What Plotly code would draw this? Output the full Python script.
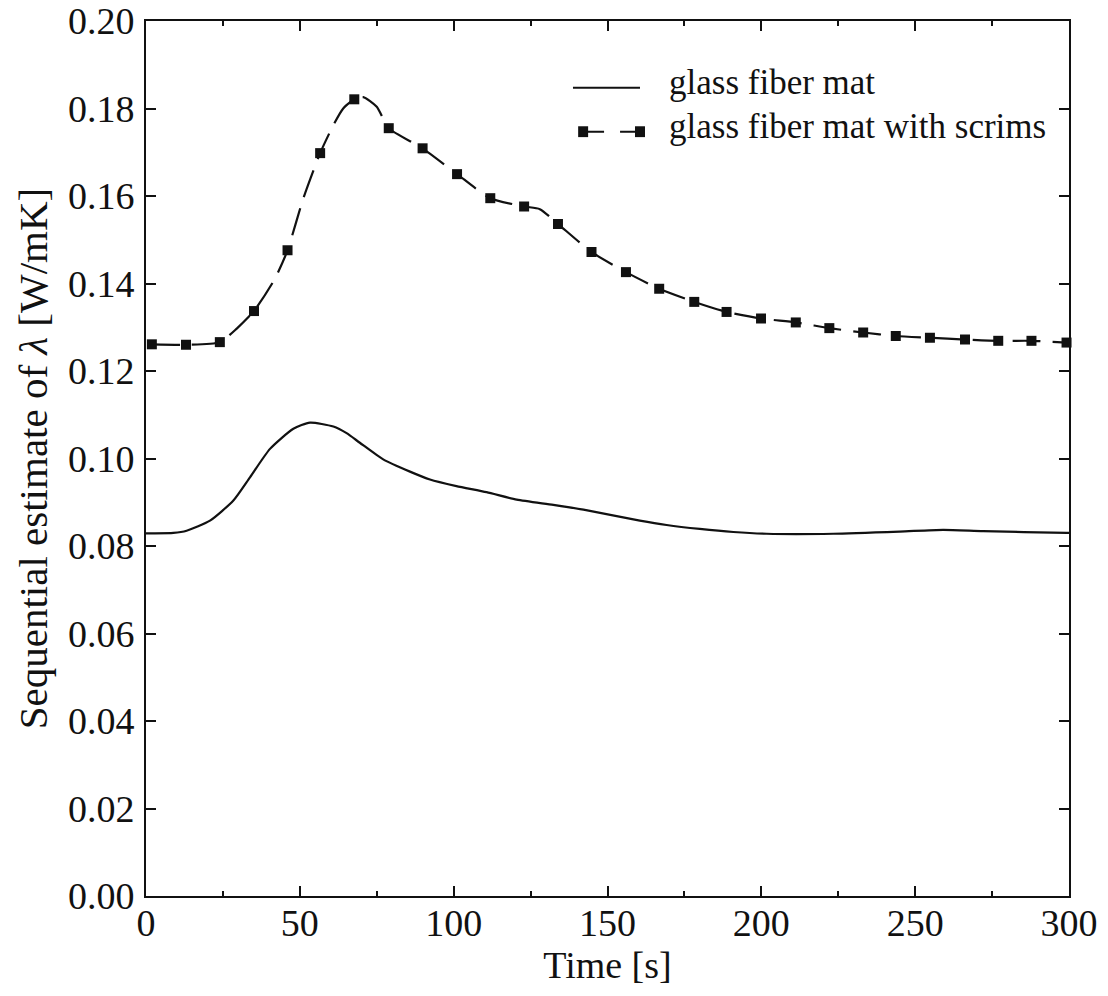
import plotly.graph_objects as go

# Glass fiber mat: sequential estimate of lambda over time
mat_t = [0, 2.4, 8.9, 13.2, 20.8, 28.4, 33.8, 40.3, 47.9, 53.3, 60.9, 65.2, 69.5,
         77.1, 85.8, 92.3, 100.9, 110.7, 120.5, 132.4, 142.2, 160.5, 169.2, 180.0,
         190.9, 201.7, 223.4, 245.0, 259.1, 272.1, 299.2, 300]
mat_lam = [0.0829, 0.0829, 0.0830, 0.0835, 0.0858, 0.0904, 0.0957, 0.1022, 0.1068,
           0.1082, 0.1073, 0.1058, 0.1036, 0.0998, 0.0970, 0.0952, 0.0937, 0.0923,
           0.0906, 0.0894, 0.0883, 0.0858, 0.0848, 0.0839, 0.0832, 0.0828, 0.0828,
           0.0833, 0.0837, 0.0834, 0.0830, 0.0830]

# Glass fiber mat with scrims: sampled points (markers)
scrim_t = [1.9, 13.0, 24.0, 35.1, 46.0, 56.6, 67.7, 78.9, 89.9, 101.1, 111.9, 122.9,
           133.9, 144.8, 156.0, 166.8, 178.2, 188.7, 199.9, 211.2, 222.1, 233.1,
           243.7, 254.8, 266.2, 277.0, 287.8, 299.2]
scrim_lam = [0.1261, 0.1260, 0.1266, 0.1337, 0.1476, 0.1698, 0.1821, 0.1755, 0.1709,
             0.1650, 0.1595, 0.1576, 0.1536, 0.1472, 0.1426, 0.1388, 0.1358, 0.1335,
             0.1320, 0.1311, 0.1298, 0.1288, 0.1280, 0.1276, 0.1272, 0.1269, 0.1269,
             0.1265]

# Intermediate points of the scrims curve between samples
scrim_mid_t = [29.5, 41.9, 51.1, 60.9, 64.1, 70.6, 75.0, 128.0]
scrim_mid_lam = [0.1297, 0.1411, 0.1594, 0.1762, 0.1800, 0.1826, 0.1804, 0.1570]

x_ticks = [0, 50, 100, 150, 200, 250, 300]
y_ticks = [0.00, 0.02, 0.04, 0.06, 0.08, 0.10, 0.12, 0.14, 0.16, 0.18, 0.20]

legend_labels = ["glass fiber mat", "glass fiber mat with scrims"]

FONT = "Liberation Serif, Times New Roman, serif"
INK = "#111111"

line_pts = sorted(zip(scrim_t + scrim_mid_t, scrim_lam + scrim_mid_lam))
line_t = [p[0] for p in line_pts]
line_lam = [p[1] for p in line_pts]

fig = go.Figure()

fig.add_trace(go.Scatter(
    x=mat_t, y=mat_lam, mode="lines",
    line=dict(color=INK, width=2.2, shape="spline", smoothing=0.6),
    showlegend=False, hoverinfo="skip"))

fig.add_trace(go.Scatter(
    x=line_t, y=line_lam, mode="lines",
    line=dict(color=INK, width=2.2, dash="28px,12px", shape="spline", smoothing=0.6),
    showlegend=False, hoverinfo="skip"))

fig.add_trace(go.Scatter(
    x=scrim_t, y=scrim_lam, mode="markers",
    marker=dict(symbol="square", size=10, color=INK),
    showlegend=False, cliponaxis=False))

# Legend keys drawn in paper coordinates
shapes = []
annotations = []
row_y = [0.9238, 0.8735]
kx0, kx1 = 0.4626, 0.5352
shapes.append(dict(type="line", xref="paper", yref="paper", x0=kx0, x1=kx1,
                   y0=row_y[0], y1=row_y[0], line=dict(color=INK, width=2)))
shapes.append(dict(type="line", xref="paper", yref="paper", x0=kx0 + 0.012, x1=kx1,
                   y0=row_y[1], y1=row_y[1], line=dict(color=INK, width=2, dash="20px,16px")))
hw, hh = 0.0054, 0.0062
for cx in (kx0 + 0.011, kx1):
    shapes.append(dict(type="rect", xref="paper", yref="paper",
                       x0=cx - hw, x1=cx + hw, y0=row_y[1] - hh, y1=row_y[1] + hh,
                       fillcolor=INK, line=dict(width=0)))
for label, yy in zip(legend_labels, row_y):
    annotations.append(dict(text=label, xref="paper", yref="paper", x=0.565, y=yy + 0.006,
                            xanchor="left", yanchor="middle", showarrow=False,
                            font=dict(family=FONT, size=35, color=INK)))

axis_common = dict(
    showline=True, linecolor=INK, linewidth=2, mirror="ticks",
    ticks="inside", ticklen=10, tickwidth=1.5, tickcolor=INK,
    showgrid=False, zeroline=False,
    tickfont=dict(family=FONT, size=38, color=INK),
)

fig.update_layout(
    width=1108, height=996,
    font=dict(family=FONT, color=INK),
    margin=dict(l=146, r=39, t=21, b=100, autoexpand=False),
    paper_bgcolor="white", plot_bgcolor="white",
    xaxis=dict(range=[0, 300], tickvals=x_ticks, ticktext=[str(v) for v in x_ticks],
               ticklabelstandoff=-8,
               minor=dict(ticks="inside", dtick=25, ticklen=5, tickwidth=1.5, tickcolor=INK),
               title=dict(text="Time [s]", font=dict(family=FONT, size=38, color=INK), standoff=2),
               **axis_common),
    yaxis=dict(range=[0, 0.2], tickvals=y_ticks, ticktext=[f"{v:.2f}" for v in y_ticks],
               ticklabelstandoff=2,
               title=dict(text="Sequential estimate of <i>λ</i> [W/mK]",
                          font=dict(family=FONT, size=41, color=INK), standoff=8),
               **axis_common),
    shapes=shapes, annotations=annotations,
)

fig.write_html("out.html")
